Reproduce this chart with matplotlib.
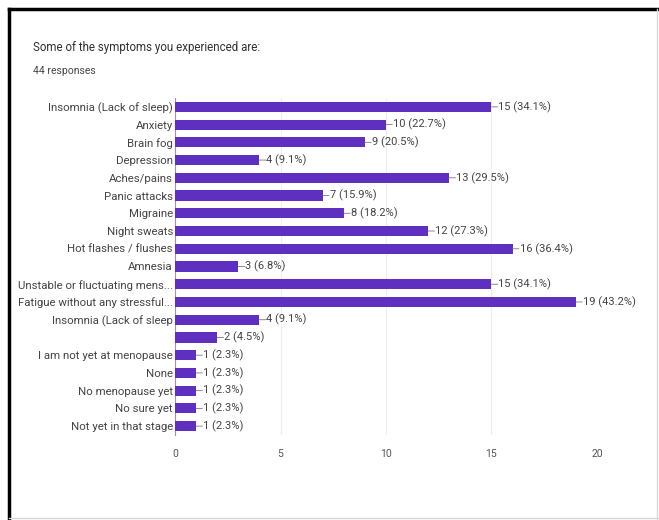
import matplotlib
matplotlib.use("Agg")
import matplotlib.pyplot as plt
from matplotlib.lines import Line2D

plt.rcParams['font.family'] = ['Roboto', 'DejaVu Sans']

categories = [
    "Insomnia (Lack of sleep)", "Anxiety", "Brain fog", "Depression",
    "Aches/pains", "Panic attacks", "Migraine", "Night sweats",
    "Hot flashes / flushes", "Amnesia", "Unstable or fluctuating mens...",
    "Fatigue without any stressful...", "Insomnia (Lack of sleep", "",
    "I am not yet at menopause", "None", "No menopause yet", "No sure yet",
    "Not yet in that stage",
]
counts = [15, 10, 9, 4, 13, 7, 8, 12, 16, 3, 15, 19, 4, 2, 1, 1, 1, 1, 1]
total_responses = 44
xticks = [0, 5, 10, 15, 20]

W, H = 659, 520
fig = plt.figure(figsize=(W / 100, H / 100), dpi=100)
fig.patch.set_facecolor("white")

# frame around the card
fig.add_artist(Line2D([9 / W, 9 / W], [0, 1 - 9 / H], color="black", lw=2.5, transform=fig.transFigure))
fig.add_artist(Line2D([9 / W, 1], [1 - 9 / H, 1 - 9 / H], color="black", lw=2.5, transform=fig.transFigure))
fig.add_artist(Line2D([657 / W, 657 / W], [0, 1 - 9 / H], color="#d8d8d8", lw=1, transform=fig.transFigure))
fig.add_artist(Line2D([9 / W, 1], [2 / H, 2 / H], color="#d8d8d8", lw=1, transform=fig.transFigure))

fig.text(33 / W, 1 - 47 / H, "Some of the symptoms you experienced are:", fontsize=8.3,
         color="#303030", va="center", ha="left")
fig.text(33 / W, 1 - 71 / H, "44 responses", fontsize=7.5, color="#444444", va="center", ha="left")

left, right = 175 / W, 597 / W
top, bottom = 1 - 98 / H, 1 - 435 / H
ax = fig.add_axes([left, bottom, right - left, top - bottom])

y = list(range(len(categories)))
ax.barh(y, counts, height=0.57, color="#5f2fc0", zorder=3)
for yi, c in zip(y, counts):
    pct = 100 * c / total_responses
    ax.annotate(f"{c} ({pct:.1f}%)", xy=(c, yi), xytext=(5, 0), textcoords="offset points",
                va="center", ha="left", fontsize=8, color="#444444")
    ax.annotate("", xy=(c, yi), xytext=(c + 0.3, yi),
                arrowprops=dict(arrowstyle="-", color="#777777", lw=0.6, shrinkA=0, shrinkB=0))

ax.set_xlim(0, 20)
ax.set_ylim(len(categories) - 0.5, -0.5)
ax.set_xticks(xticks)
ax.set_xticklabels([str(t) for t in xticks])
ax.set_yticks(y)
ax.set_yticklabels(categories)
ax.tick_params(axis="y", length=0, labelsize=8.2, labelcolor="#444444", pad=1.5)
ax.tick_params(axis="x", length=0, labelsize=7.5, labelcolor="#555555", pad=10)
ax.grid(axis="x", color="#eeeeee", lw=0.8, zorder=0)
for s in ["top", "right", "bottom"]:
    ax.spines[s].set_visible(False)
ax.spines["left"].set_color("#999999")
ax.spines["left"].set_linewidth(0.8)

fig.savefig("out.png", dpi=100)
